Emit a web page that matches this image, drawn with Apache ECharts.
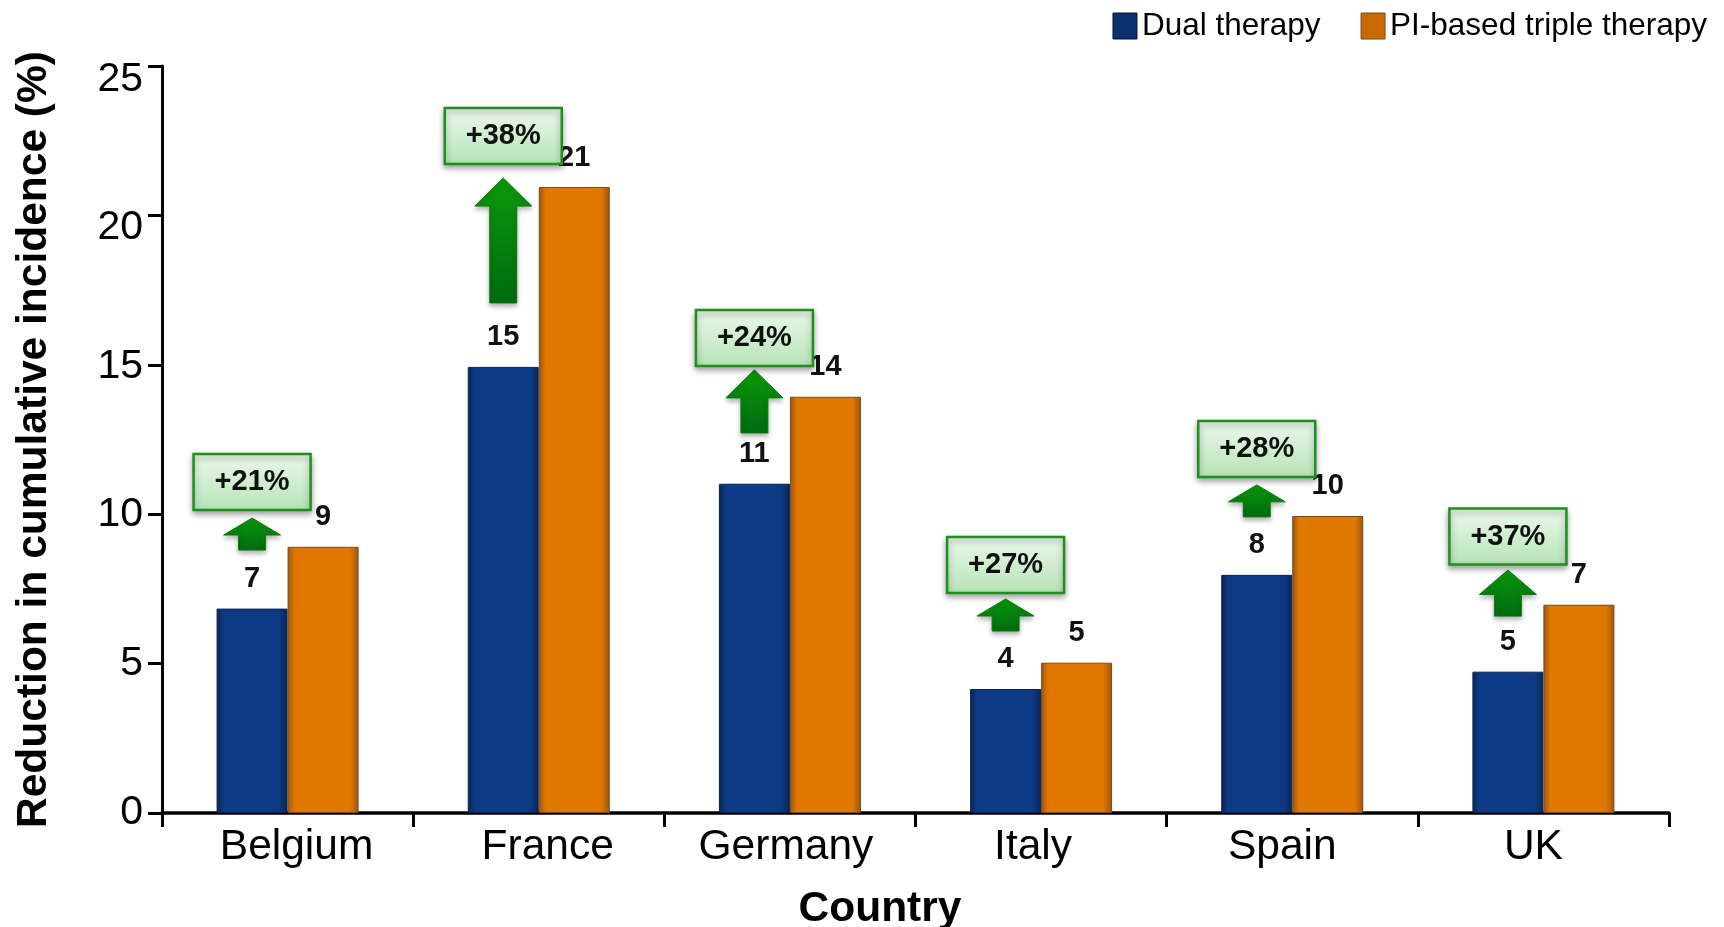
<!DOCTYPE html>
<html>
<head>
<meta charset="utf-8">
<script src="https://cdn.jsdelivr.net/npm/echarts@6/dist/echarts.min.js"></script>
<style>
  html, body { margin: 0; padding: 0; background: #fff; }
  #main { width: 1724px; height: 927px; }
</style>
</head>
<body>
<div id="main"></div>
<script>
var countries = ['Belgium', 'France', 'Germany', 'Italy', 'Spain', 'UK'];
var dualValues = [6.84, 14.93, 11.02, 4.15, 7.97, 4.73];
var tripleValues = [8.91, 20.95, 13.93, 5.03, 9.94, 6.97];
var dualLabels = ['7', '15', '11', '4', '8', '5'];
var tripleLabels = ['9', '21', '14', '5', '10', '7'];
var gainLabels = ['+21%', '+38%', '+24%', '+27%', '+28%', '+37%'];
// arrow base / tip and box centre, in axis units
var arrowBase = [8.80, 17.07, 12.72, 6.09, 9.91, 6.59];
var arrowTip = [9.87, 21.25, 14.83, 7.16, 10.98, 8.13];
var boxCenter = [11.08, 22.66, 15.90, 8.30, 12.18, 9.25];
var yTicks = [0, 5, 10, 15, 20, 25];

var FONT = '"Liberation Sans", Arial, Helvetica, sans-serif';
var BAR_W = 71;
// the original's hand placed labels sit a little off the ticks
var xLabelShift = [9, 9, -4, -8, -10, -10];
var yLabelShift = { 25: 14, 20: 12, 15: 2 };

var chart = echarts.init(document.getElementById('main'));

function barGrad(edge, mid) {
  return new echarts.graphic.LinearGradient(0, 0, 1, 0, [
    { offset: 0, color: edge },
    { offset: 0.1, color: mid },
    { offset: 0.88, color: mid },
    { offset: 1, color: edge }
  ]);
}

function renderGain(params, api) {
  var i = api.value(0);
  var cx = api.coord([i, 0])[0] - BAR_W / 2;
  var yBase = api.coord([i, api.value(1)])[1];
  var yTip = api.coord([i, api.value(2)])[1];
  var yBox = api.coord([i, api.value(3)])[1];
  var len = yBase - yTip;
  var head = Math.min(28, len * 0.53);
  var hw = 28.5, sw = 13.5;
  var pts = [
    [cx, yTip], [cx + hw, yTip + head], [cx + sw, yTip + head], [cx + sw, yBase],
    [cx - sw, yBase], [cx - sw, yTip + head], [cx - hw, yTip + head]
  ];
  var bw = 117, bh = 56;
  return {
    type: 'group',
    children: [
      {
        type: 'polygon',
        shape: { points: pts },
        style: {
          fill: new echarts.graphic.LinearGradient(0, 0, 0, 1, [
            { offset: 0, color: '#0b9a0b' },
            { offset: 1, color: '#006a10' }
          ]),
          stroke: '#0a7a0a',
          lineWidth: 1,
          shadowBlur: 5,
          shadowOffsetY: 3,
          shadowColor: 'rgba(0,0,0,0.3)'
        }
      },
      {
        type: 'rect',
        shape: { x: cx - bw / 2, y: yBox - bh / 2, width: bw, height: bh },
        style: {
          fill: new echarts.graphic.LinearGradient(0, 0, 0, 1, [
            { offset: 0, color: '#edf8ed' },
            { offset: 1, color: '#b5e3b5' }
          ]),
          stroke: '#1f8f1f',
          lineWidth: 2.5,
          shadowBlur: 6,
          shadowOffsetY: 3,
          shadowColor: 'rgba(0,0,0,0.35)'
        }
      },
      {
        type: 'text',
        x: cx,
        y: yBox,
        style: {
          text: gainLabels[i],
          fill: '#111',
          font: 'bold 29px ' + FONT,
          align: 'center',
          verticalAlign: 'middle'
        }
      }
    ]
  };
}

var yRich = {};
yTicks.forEach(function (t) {
  yRich['t' + t] = { fontSize: 41, color: '#000', padding: [2 * (yLabelShift[t] || 0), 0, 0, 0] };
});

var option = {
  animation: false,
  textStyle: { fontFamily: FONT },
  legend: {
    right: 12,
    top: 5,
    itemWidth: 24,
    itemHeight: 26,
    itemGap: 40,
    icon: 'rect',
    textStyle: { fontSize: 31.5, color: '#000', fontFamily: FONT },
    data: [
      { name: 'Dual therapy', itemStyle: { color: '#0c2f6e', borderColor: '#06193f', borderWidth: 1 } },
      { name: 'PI-based triple therapy', itemStyle: { color: '#c86a00', borderColor: '#7a4a1a', borderWidth: 1 } }
    ]
  },
  grid: { left: 162, right: 55, top: 66, bottom: 114, outerBoundsMode: 'none', containLabel: false },
  xAxis: {
    type: 'category',
    data: countries.map(function (c, i) {
      var s = xLabelShift[i];
      return { value: c, textStyle: { padding: s > 0 ? [0, 0, 0, 2 * s] : [0, -2 * s, 0, 0] } };
    }),
    name: 'Country',
    nameLocation: 'middle',
    nameGap: 75,
    nameTextStyle: { fontSize: 42.5, fontWeight: 'bold', color: '#000', padding: [0, 71, 0, 0] },
    axisLine: { lineStyle: { color: '#000', width: 3.5 } },
    axisTick: { show: true, length: 14, lineStyle: { color: '#000', width: 3 } },
    axisLabel: { fontSize: 42.5, color: '#000', margin: 13 }
  },
  yAxis: {
    type: 'value',
    min: yTicks[0],
    max: yTicks[yTicks.length - 1],
    interval: yTicks[1] - yTicks[0],
    name: 'Reduction in cumulative incidence (%)',
    nameLocation: 'middle',
    nameRotate: 90,
    nameGap: 106,
    nameTextStyle: { fontSize: 42.5, fontWeight: 'bold', color: '#000' },
    axisLine: { show: true, lineStyle: { color: '#000', width: 3 } },
    axisTick: { show: true, length: 14, lineStyle: { color: '#000', width: 3 } },
    axisLabel: {
      fontSize: 41,
      color: '#000',
      margin: 19,
      formatter: function (v) { return '{t' + v + '|' + v + '}'; },
      rich: yRich
    },
    splitLine: { show: false }
  },
  series: [
    {
      name: 'Dual therapy',
      type: 'bar',
      barWidth: BAR_W,
      barGap: '0%',
      data: dualValues,
      itemStyle: { color: barGrad('#0a2554', '#0d3a84'), borderColor: '#0a2250', borderWidth: 1 },
      label: {
        show: true,
        position: 'top',
        distance: 15,
        fontSize: 29,
        fontWeight: 'bold',
        color: '#111',
        formatter: function (p) { return dualLabels[p.dataIndex]; }
      }
    },
    {
      name: 'PI-based triple therapy',
      type: 'bar',
      barWidth: BAR_W,
      barGap: '0%',
      data: tripleValues,
      itemStyle: { color: barGrad('#9a5512', '#e07800'), borderColor: '#7a4a1a', borderWidth: 1 },
      label: {
        show: true,
        position: 'top',
        distance: 15,
        fontSize: 29,
        fontWeight: 'bold',
        color: '#111',
        formatter: function (p) { return tripleLabels[p.dataIndex]; }
      }
    },
    {
      name: 'gain',
      type: 'custom',
      renderItem: renderGain,
      data: countries.map(function (c, i) { return [i, arrowBase[i], arrowTip[i], boxCenter[i]]; }),
      z: 5
    }
  ]
};

chart.setOption(option);
</script>
</body>
</html>
